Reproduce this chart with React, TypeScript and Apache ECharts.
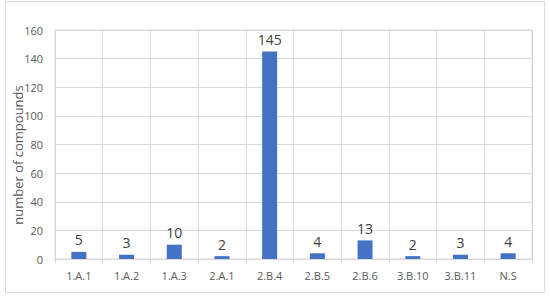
import React, { useEffect, useRef } from "react";
import * as echarts from "echarts";

const categories = ["1.A.1", "1.A.2", "1.A.3", "2.A.1", "2.B.4", "2.B.5", "2.B.6", "3.B.10", "3.B.11", "N.S"];
const counts = [5, 3, 10, 2, 145, 4, 13, 2, 3, 4];
const yTicks = { min: 0, max: 160, interval: 20 };
const yTitle = "number of compounds";

export default function App() {
  const ref = useRef<HTMLDivElement>(null);
  useEffect(() => {
    const chart = echarts.init(ref.current!, null, { renderer: "svg" });
    const font = "Open Sans";
    chart.setOption({
      animation: false,
      textStyle: { fontFamily: font },
      graphic: [
        {
          type: "rect",
          shape: { x: 5.5, y: 1.5, width: 539, height: 291 },
          style: { fill: "none", stroke: "#d9d9d9", lineWidth: 1 },
          silent: true,
        },
        {
          type: "text",
          x: 18,
          y: 155,
          rotation: Math.PI / 2,
          style: {
            text: yTitle,
            fill: "#595959",
            font: `13px '${font}'`,
            align: "center",
            verticalAlign: "middle",
          },
          silent: true,
        },
      ],
      grid: {
        left: 55,
        right: 18,
        top: 30,
        bottom: 40,
        show: true,
        borderColor: "#d9d9d9",
        borderWidth: 1,
      },
      xAxis: {
        type: "category",
        data: categories,
        axisLine: { lineStyle: { color: "#d9d9d9" } },
        axisTick: { show: true, length: 4, lineStyle: { color: "#d9d9d9" } },
        splitLine: { show: true, lineStyle: { color: "#d9d9d9" } },
        axisLabel: { color: "#595959", fontSize: 11, margin: 11, fontFamily: font },
      },
      yAxis: {
        type: "value",
        min: yTicks.min,
        max: yTicks.max,
        interval: yTicks.interval,
        axisLine: { show: false },
        axisTick: { show: false },
        splitLine: { show: true, lineStyle: { color: "#d9d9d9" } },
        axisLabel: { color: "#595959", fontSize: 11, margin: 12, fontFamily: font },
      },
      series: [
        {
          type: "bar",
          data: counts,
          barWidth: 15,
          itemStyle: { color: "#4472c4" },
          label: {
            show: true,
            position: "top",
            distance: 5,
            color: "#404040",
            fontSize: 14,
            fontFamily: font,
          },
        },
      ],
    });
    return () => chart.dispose();
  }, []);
  return (
    <div
      ref={ref}
      style={{ position: "fixed", left: 0, top: 0, width: 550, height: 299, background: "#fff" }}
    />
  );
}
